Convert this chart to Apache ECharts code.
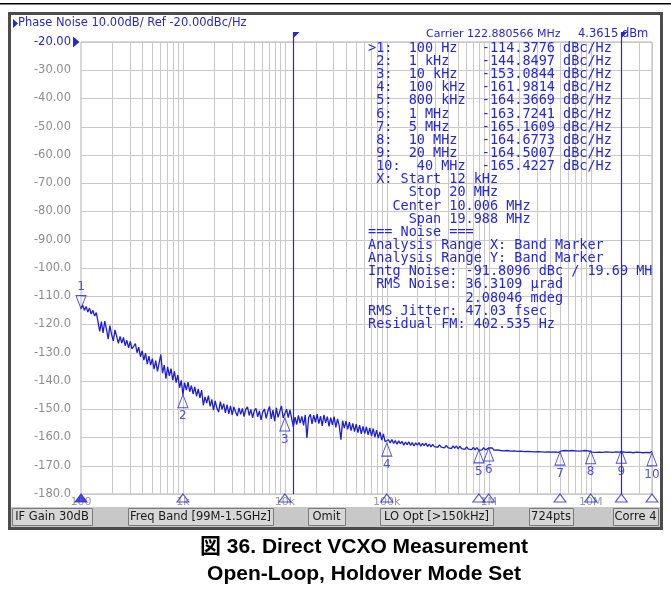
<!DOCTYPE html>
<html>
<head>
<meta charset="utf-8">
<script src="https://cdn.jsdelivr.net/npm/echarts@6/dist/echarts.min.js"></script>
<style>
html,body{margin:0;padding:0;background:#fff;}
#chart{width:671px;height:609px;}
</style>
</head>
<body>
<div id="chart"></div>
<script>
// Sweep points: 60 log-spaced steps per decade (multipliers of the decade start)
const sweepStep = [
  1.000,1.039,1.080,1.122,1.166,1.212,1.259,1.308,1.359,1.413,1.468,1.526,1.585,1.647,1.711,1.778,1.848,1.920,1.995,2.073,
  2.154,2.239,2.326,2.418,2.512,2.610,2.712,2.818,2.929,3.043,3.162,3.286,3.415,3.548,3.687,3.831,3.981,4.137,4.299,4.467,
  4.642,4.823,5.012,5.208,5.412,5.623,5.843,6.072,6.310,6.556,6.813,7.079,7.356,7.644,7.943,8.254,8.577,8.913,9.261,9.624
];

// Measured phase noise (dBc/Hz) per decade of offset frequency
const lvl100Hz = [
  -114.4,-113.2,-115.0,-113.6,-115.6,-114.2,-116.3,-115.0,-117.0,-115.8,-119.0,-122.4,-119.0,-123.0,-118.8,-121.6,-125.2,-120.4,-123.5,-125.8,
  -121.9,-124.2,-126.7,-124.2,-126.6,-124.6,-127.5,-125.6,-128.3,-126.0,-128.6,-129.2,-126.8,-130.0,-128.0,-131.4,-129.3,-132.6,-130.1,-134.0,
  -131.2,-134.4,-132.1,-135.8,-132.8,-136.6,-133.6,-130.6,-137.2,-134.4,-139.2,-135.0,-138.2,-135.6,-139.7,-136.6,-140.6,-137.8,-142.4,-139.8
];
const lvl1kHz = [
  -144.85,-140.6,-143.2,-140.4,-143.8,-141.6,-144.6,-142.1,-145.4,-142.8,-146.0,-143.2,-148.6,-145.6,-147.8,-145.2,-149.0,-146.5,-150.3,-147.0,
  -149.6,-151.0,-147.3,-150.0,-148.0,-151.3,-148.4,-151.6,-148.8,-152.0,-149.2,-151.0,-152.4,-149.5,-151.8,-149.7,-152.6,-150.0,-149.2,-152.2,
  -150.1,-153.0,-150.5,-149.7,-152.7,-150.6,-153.8,-150.9,-149.9,-153.2,-150.7,-149.0,-153.4,-150.3,-154.2,-149.5,-152.9,-150.8,-148.8,-153.1
];
const lvl10kHz = [
  -153.08,-150.0,-153.0,-150.2,-150.7,-156.2,-152.8,-155.4,-152.2,-154.9,-152.5,-155.7,-152.0,-160.2,-152.9,-151.8,-155.2,-152.1,-154.6,-151.7,
  -155.1,-152.4,-155.9,-152.0,-154.8,-152.6,-156.1,-153.0,-155.5,-152.6,-156.4,-153.4,-155.8,-160.8,-154.0,-156.7,-154.2,-157.1,-154.6,-157.6,
  -155.0,-157.9,-155.3,-158.3,-155.6,-158.7,-156.1,-158.6,-156.2,-159.1,-156.6,-159.5,-156.9,-159.9,-157.4,-160.2,-158.0,-160.9,-158.7,-161.5
];
const lvl100kHz = [
  -161.98,-160.8,-161.9,-160.7,-162.1,-161.1,-162.4,-161.2,-162.2,-161.4,-162.7,-161.6,-162.5,-161.5,-162.8,-161.8,-163.0,-161.9,-162.7,-161.8,
  -163.1,-162.1,-162.9,-162.0,-163.2,-162.3,-163.3,-162.4,-163.2,-162.5,-163.5,-162.6,-163.4,-162.7,-163.7,-162.8,-163.6,-162.9,-163.9,-163.0,
  -163.8,-163.0,-164.0,-163.1,-163.9,-163.2,-164.2,-163.3,-164.1,-163.4,-164.3,-163.5,-164.4,-163.6,-164.37,-163.7,-164.5,-163.6,-164.4,-163.7
];
const lvl1MHz = [
  -163.72,-164.3,-163.7,-164.5,-163.8,-164.4,-163.9,-164.6,-164.0,-164.7,-164.0,-164.6,-164.1,-164.8,-164.2,-164.7,-164.1,-164.9,-164.3,-164.8,
  -164.2,-165.0,-164.4,-164.9,-164.3,-165.0,-164.4,-165.1,-164.5,-165.0,-164.4,-165.1,-164.5,-165.2,-164.6,-165.1,-164.5,-165.2,-164.6,-165.1,
  -164.5,-165.3,-165.16,-164.7,-165.2,-164.6,-165.3,-164.7,-165.2,-164.6,-165.3,-164.7,-165.2,-164.8,-165.4,-164.7,-165.2,-164.6,-165.3,-164.8
];
const lvl10MHz = [
  -164.68,-165.2,-164.6,-165.3,-164.7,-165.2,-164.6,-165.3,-164.7,-165.1,-164.5,-165.2,-164.6,-165.3,-164.7,-165.1,-164.5,-165.2,-164.50,-165.1,
  -164.6,-165.3,-164.7,-165.2,-164.6,-165.4,-164.8,-165.2,-164.7,-165.3,-164.8,-165.4,-164.8,-165.3,-164.9,-165.4,-164.9
];
const traceEnd = [4e7, -165.42];

// Markers 1..10
const markerHz = [100, 1e3, 1e4, 1e5, 8e5, 1e6, 5e6, 1e7, 2e7, 4e7];
const markerFreqText = ['100 Hz', '1 kHz', '10 kHz', '100 kHz', '800 kHz', '1 MHz', '5 MHz', '10 MHz', '20 MHz', '40 MHz'];
const markerDbc = [-114.3776, -144.8497, -153.0844, -161.9814, -164.3669, -163.7241, -165.1609, -164.6773, -164.5007, -165.4227];

// Integration band (band markers)
const bandHz = [12e3, 20e6];

// Axes
const freqMin = 100, freqMax = 4e7;
const decadeHz = [100, 1e3, 1e4, 1e5, 1e6, 1e7];
const decadeText = ['100', '1k', '10k', '100k', '1M', '10M'];
const levelMin = -180, levelMax = -20, levelStep = 10;

// Noise analysis read-out
const infoLines = [
  ' X: Start 12 kHz',
  '     Stop 20 MHz',
  '   Center 10.006 MHz',
  '     Span 19.988 MHz',
  '=== Noise ===',
  'Analysis Range X: Band Marker',
  'Analysis Range Y: Band Marker',
  'Intg Noise: -91.8096 dBc / 19.69 MH',
  ' RMS Noise: 36.3109 \u00b5rad',
  '            2.08046 mdeg',
  'RMS Jitter: 47.03 fsec',
  'Residual FM: 402.535 Hz'
];
const statusItems = [
  ['IF Gain 30dB', 12, 92], ['Freq Band [99M-1.5GHz]', 128, 273], ['Omit', 308, 345],
  ['LO Opt [>150kHz]', 380, 493], ['724pts', 529, 573], ['Corre 4', 613, 658]
];

const BLUE = '#2626d8';
const TRACE = '#1e1ed6';
const GRID = '#c9c9c9';
const SANS = '"DejaVu Sans", sans-serif';

// assemble the trace from the per-decade readings
const trace = [];
[[100, lvl100Hz], [1e3, lvl1kHz], [1e4, lvl10kHz], [1e5, lvl100kHz], [1e6, lvl1MHz], [1e7, lvl10MHz]].forEach(([start, lv]) => {
  lv.forEach((v, i) => trace.push([start * sweepStep[i], v]));
});
trace.push(traceEnd);

// log-decade grid lines (1..9 x each decade) up to the stop frequency
const gridHz = [];
for (let d = 100; d <= 1e7; d *= 10) {
  for (let m = 1; m <= 9; m++) {
    const f = d * m;
    if (f > freqMin && f <= freqMax) gridHz.push(f);
  }
}

// marker table text
const markerLines = markerHz.map((f, i) => {
  const head = (i === 0 ? '>' : ' ') + (i + 1) + ':  ' + markerFreqText[i];
  return head.padEnd(14, ' ') + markerDbc[i].toFixed(4) + ' dBc/Hz';
});
const readout = markerLines.concat(infoLines).join('\n');

const chart = echarts.init(document.getElementById('chart'), null, { renderer: 'canvas' });

const frameGraphics = [
  { type: 'rect', shape: { x: 0, y: 3, width: 671, height: 1.6 }, style: { fill: '#000' }, silent: true },
  { type: 'rect', shape: { x: 9.5, y: 13.5, width: 652, height: 515 }, style: { fill: 'none', stroke: '#4c4c4c', lineWidth: 3 }, silent: true, z: 10 },
  { type: 'polygon', shape: { points: [[13, 19], [13, 28], [18, 23.5]] }, style: { fill: BLUE }, silent: true },
  { type: 'text', x: 18, y: 23.5, style: { text: 'Phase Noise 10.00dB/ Ref -20.00dBc/Hz', font: '11.5px ' + SANS, fill: '#2a2ab8', verticalAlign: 'middle' }, silent: true },
  { type: 'text', x: 426, y: 34.5, style: { text: 'Carrier 122.880566 MHz', font: '11px ' + SANS, fill: BLUE, verticalAlign: 'middle' }, silent: true },
  { type: 'text', x: 578, y: 34.5, style: { text: '4.3615 dBm', font: '11.5px ' + SANS, fill: BLUE, verticalAlign: 'middle' }, silent: true },
  { type: 'text', x: 368, y: 41.7, z: 20, style: { text: readout, font: '13.5px "DejaVu Sans Mono", monospace', lineHeight: 13.15, fill: BLUE, verticalAlign: 'top' }, silent: true },
  { type: 'rect', shape: { x: 11, y: 507, width: 649, height: 20 }, style: { fill: '#c8c8c8' }, silent: true }
];
statusItems.forEach(([label, x0, x1]) => {
  frameGraphics.push({ type: 'rect', shape: { x: x0 + 0.5, y: 508.5, width: x1 - x0, height: 17 }, style: { fill: '#d6d6d6', stroke: '#7a7a7a', lineWidth: 1 }, silent: true });
  frameGraphics.push({ type: 'text', x: (x0 + x1) / 2, y: 517.5, style: { text: label, font: '11.5px ' + SANS, fill: '#1a1a1a', align: 'center', verticalAlign: 'middle' }, silent: true });
});
frameGraphics.push(
  { type: 'text', x: 364, y: 547.5, style: { text: '図 36. Direct VCXO Measurement', font: 'bold 21px "Liberation Sans", "Noto Sans CJK JP", sans-serif', fill: '#000', align: 'center', verticalAlign: 'middle' }, silent: true },
  { type: 'text', x: 364, y: 574, style: { text: 'Open-Loop, Holdover Mode Set', font: 'bold 21px "Liberation Sans", sans-serif', fill: '#000', align: 'center', verticalAlign: 'middle' }, silent: true }
);

const downTri = 'path://M0,0 L10,0 L5,13 Z';

chart.setOption({
  animation: false,
  backgroundColor: '#fff',
  grid: { left: 81, top: 42, right: 19, bottom: 115, show: true, backgroundColor: '#fff', borderColor: '#b0b0b0', borderWidth: 1 },
  xAxis: {
    type: 'log', logBase: 10, min: freqMin, max: freqMax,
    axisLine: { show: false }, axisTick: { show: false }, splitLine: { show: false },
    axisLabel: {
      margin: 3, fontSize: 11, fontFamily: SANS, color: '#9a9a9a', showMaxLabel: false,
      formatter: v => {
        const e = Math.log10(v);
        const i = decadeHz.indexOf(Math.pow(10, Math.round(e)));
        return (i >= 0 && Math.abs(e - Math.round(e)) < 1e-6) ? decadeText[i] : '';
      }
    }
  },
  yAxis: {
    type: 'value', min: levelMin, max: levelMax, interval: levelStep,
    axisLine: { show: false }, axisTick: { show: false },
    splitLine: { lineStyle: { color: GRID, width: 1 } },
    axisLabel: {
      margin: 10, fontSize: 11.5, fontFamily: SANS,
      color: v => (Number(v) === levelMax ? BLUE : '#8e8e8e'),
      formatter: v => (v > -100 ? v.toFixed(2) : v.toFixed(1))
    }
  },
  graphic: frameGraphics,
  series: [
    {
      // vertical frequency grid
      type: 'custom', name: 'freqGrid', silent: true, clip: false, z: 1,
      data: gridHz.map(f => [f, levelMax]), encode: { x: 0, y: 1 },
      renderItem: (params, api) => {
        const f = api.value(0);
        const a = api.coord([f, levelMax]);
        const b = api.coord([f, levelMin]);
        const x = Math.round(a[0]) + 0.5;
        return { type: 'line', shape: { x1: x, y1: a[1], x2: x, y2: b[1] }, style: { stroke: GRID, lineWidth: 1 } };
      }
    },
    {
      // reference level indicator
      type: 'custom', name: 'refLevel', silent: true, clip: false, z: 6,
      data: [[freqMin, levelMax]], encode: { x: 0, y: 1 },
      renderItem: (params, api) => {
        const p = api.coord([api.value(0), api.value(1)]);
        return { type: 'polygon', shape: { points: [[p[0] - 8, p[1] - 5.5], [p[0] - 8, p[1] + 5.5], [p[0] - 1.5, p[1]]] }, style: { fill: BLUE } };
      }
    },
    {
      // integration band markers
      type: 'custom', name: 'band', silent: true, clip: false, z: 4,
      data: bandHz.map(f => [f, levelMax]), encode: { x: 0, y: 1 },
      renderItem: (params, api) => {
        const f = api.value(0);
        const a = api.coord([f, levelMax]);
        const b = api.coord([f, levelMin]);
        const x = Math.round(a[0]) + 0.5;
        const top = a[1] - 10;
        return {
          type: 'group', children: [
            { type: 'line', shape: { x1: x, y1: top, x2: x, y2: b[1] }, style: { stroke: BLUE, lineWidth: 1.2 } },
            { type: 'polygon', shape: { points: [[x, top], [x + 6, top], [x, top + 6]] }, style: { fill: BLUE } }
          ]
        };
      }
    },
    {
      type: 'line', name: 'Phase Noise', data: trace, showSymbol: false, symbol: 'none',
      lineStyle: { color: TRACE, width: 1.3 }, z: 3, silent: true
    },
    {
      // markers on the trace
      type: 'scatter', name: 'markers', clip: false, z: 5, silent: true,
      symbol: 'triangle', symbolSize: [10, 13], symbolOffset: [0, '50%'],
      itemStyle: { color: 'rgba(255,255,255,0)', borderColor: BLUE, borderWidth: 1 },
      label: { show: true, position: 'bottom', distance: 2, color: BLUE, fontSize: 12, fontFamily: SANS, formatter: p => String(p.dataIndex + 1) },
      data: markerHz.map((f, i) => i === 0
        ? { value: [f, markerDbc[i]], symbol: downTri, symbolOffset: [0, '-50%'], label: { position: 'top', distance: 2 } }
        : [f, markerDbc[i]])
    },
    {
      // marker positions on the frequency axis
      type: 'scatter', name: 'markerAxis', clip: false, z: 5, silent: true,
      symbol: 'triangle', symbolSize: [12, 8], symbolOffset: [0, '50%'],
      itemStyle: { color: 'rgba(255,255,255,0)', borderColor: BLUE, borderWidth: 1 },
      data: markerHz.map((f, i) => i === 0
        ? { value: [f, levelMin], itemStyle: { color: BLUE } }
        : [f, levelMin])
    }
  ]
});
</script>
</body>
</html>
